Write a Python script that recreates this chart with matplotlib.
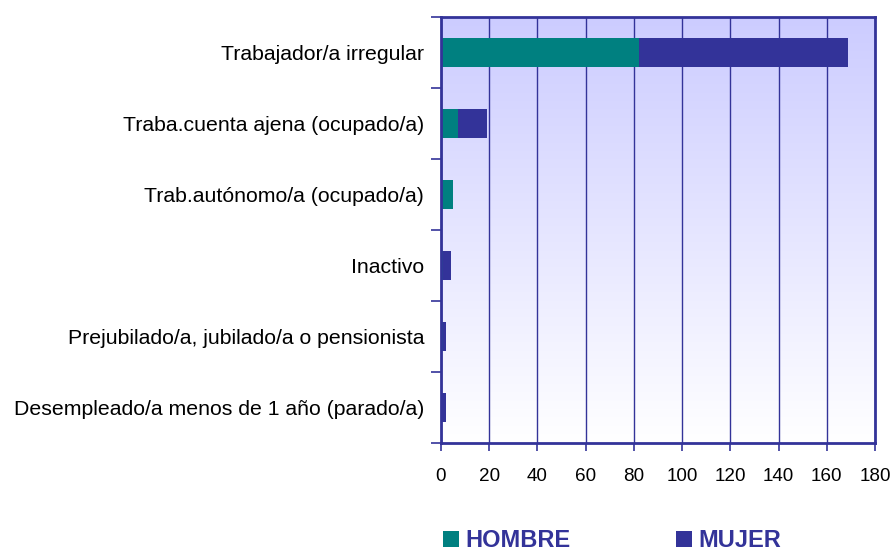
import matplotlib
matplotlib.use("Agg")
import matplotlib.pyplot as plt
import numpy as np
from matplotlib.colors import LinearSegmentedColormap

categories = [
    "Trabajador/a irregular",
    "Traba.cuenta ajena (ocupado/a)",
    "Trab.autónomo/a (ocupado/a)",
    "Inactivo",
    "Prejubilado/a, jubilado/a o pensionista",
    "Desempleado/a menos de 1 año (parado/a)",
]
hombre = [82, 7, 5, 1, 1, 0]
mujer = [87, 12, 0, 3, 1, 2]
xticks = [0, 20, 40, 60, 80, 100, 120, 140, 160, 180]

C_H = "#008080"
C_M = "#333399"

plt.rcParams['font.family'] = ['Liberation Sans', 'DejaVu Sans']

fig = plt.figure(figsize=(8.94, 5.52), dpi=100)
ax = fig.add_axes([441/894, 1-443/552, 434/894, 426/552])

n = len(categories)
y = np.arange(n)
ax.barh(y, hombre, height=0.41, color=C_H, label="HOMBRE", zorder=3)
ax.barh(y, mujer, left=hombre, height=0.41, color=C_M, label="MUJER", zorder=3)

# gradient background
grad = np.linspace(0, 1, 256).reshape(-1, 1)
cmap = LinearSegmentedColormap.from_list("bg", ["#CCCCFF", "#FFFFFF"])
ax.imshow(grad, cmap=cmap, aspect='auto', extent=[0, 1, 0, 1],
          transform=ax.transAxes, zorder=0, origin='upper')
ax.set_xlim(0, 180)
ax.set_ylim(n - 0.5, -0.5)

ax.set_xticks(xticks)
ax.set_xticklabels([str(v) for v in xticks])
ax.xaxis.grid(True, color=C_M, linewidth=1.0, zorder=1)
ax.set_axisbelow(False)

ax.set_yticks(y)
ax.set_yticklabels(categories)
ax.set_yticks(np.arange(n + 1) - 0.5, minor=True)
ax.tick_params(axis='y', which='major', length=0, pad=12, labelsize=15.3)
ax.tick_params(axis='y', which='minor', length=7, width=1.2, color=C_M, direction='out')
ax.tick_params(axis='x', length=6, width=1.2, color=C_M, direction='out', pad=12, labelsize=13.6)

for s in ax.spines.values():
    s.set_color(C_M)
    s.set_linewidth(2)
    s.set_zorder(4)

fig.legend(loc='lower left', bbox_to_anchor=(443/894, 0), ncol=2,
           frameon=False, prop={'weight': 'bold', 'size': 17},
           labelcolor=C_M, handlelength=0.68, handleheight=0.68,
           handletextpad=0.25, columnspacing=4.5, borderpad=0, borderaxespad=0)

fig.savefig("out.png", dpi=100)
